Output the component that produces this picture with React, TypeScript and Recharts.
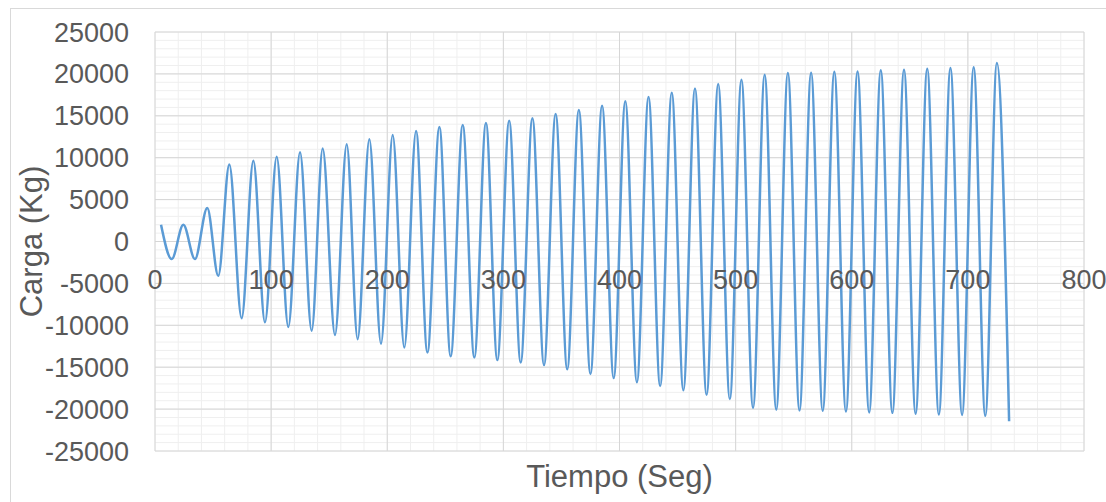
import {
  Label,
  Line,
  LineChart,
  ReferenceDot,
  ReferenceLine,
  XAxis,
  YAxis,
} from 'recharts'

// extremos de la curva (picos y valles)
const tiempoSeg = [
  5.2, 14.4, 24.4, 34.4, 45, 54.5, 64, 74.6, 84.7, 94.7, 104.8, 114.8, 124.9, 134.9, 144.4, 155,
  165.1, 174.5, 184.6, 194.6, 204.7, 214.7, 224.8, 234.6, 244.9, 254.6, 265, 275, 285, 294.8,
  305, 314.9, 325, 335, 345, 355, 365, 375, 385, 395, 405, 415, 425, 435, 445, 455, 465, 475,
  485, 495, 505, 515, 525, 535, 545, 555, 565, 575, 585, 595, 605, 615, 625, 635, 645, 655,
  665, 675, 685, 695, 705, 715, 725, 735.5,
]

const cargaKg = [
  2000, -2100, 2000, -2100, 4000, -4100, 9200, -9150, 9650, -9650, 10100, -10200, 10650, -10650,
  11100, -11150, 11600, -11650, 12200, -12200, 12700, -12650, 13200, -13250, 13650, -13700,
  13900, -13850, 14150, -14150, 14400, -14450, 14700, -14750, 15200, -15250, 15700, -15800,
  16200, -16300, 16750, -16800, 17250, -17250, 17750, -17750, 18250, -18300, 18800, -18800,
  19300, -19850, 19900, -20050, 20100, -20150, 20150, -20200, 20250, -20300, 20300, -20400,
  20450, -20450, 20500, -20550, 20600, -20650, 20700, -20700, 20800, -20800, 21300, -21450,
]

const xTicks = [0, 100, 200, 300, 400, 500, 600, 700, 800]
const yTicks = [-25000, -20000, -15000, -10000, -5000, 0, 5000, 10000, 15000, 20000, 25000]

const xMinor = Array.from({ length: 41 }, (_, i) => i * 20)
const yMinor = Array.from({ length: 51 }, (_, i) => -25000 + i * 1000)

const data = tiempoSeg.map((t, i) => ({ t, carga: cargaKg[i] }))

const FONT = '"Liberation Sans", Arial, sans-serif'
const TEXT = '#595959'

export default function App() {
  return (
    <div style={{ position: 'absolute', left: 0, top: 0, width: 1106, height: 502, background: '#fff' }}>
      <div
        style={{
          position: 'absolute',
          left: 10,
          top: 8,
          width: 1100,
          height: 500,
          border: '1px solid #d9d9d9',
          boxSizing: 'border-box',
        }}
      />
      <LineChart
        width={1106}
        height={502}
        data={data}
        margin={{ top: 32, right: 22, bottom: 0, left: 0 }}
        style={{ position: 'absolute', left: 0, top: 0, fontFamily: FONT }}
      >
        <XAxis
          dataKey="t"
          type="number"
          domain={[0, 800]}
          ticks={xTicks}
          height={51}
          axisLine={false}
          tickLine={false}
          tick={false}
        >
          <Label
            value="Tiempo (Seg)"
            position="insideBottom"
            offset={15}
            style={{ fontSize: 31, fill: TEXT, fontFamily: FONT }}
          />
        </XAxis>
        <YAxis
          type="number"
          domain={[-25000, 25000]}
          ticks={yTicks}
          width={155}
          axisLine={false}
          tickLine={false}
          tickSize={0}
          tickMargin={26}
          tick={{ fontSize: 27, fill: TEXT, fontFamily: FONT }}
        >
          <Label
            value="Carga (Kg)"
            angle={-90}
            position="insideLeft"
            offset={31}
            style={{ fontSize: 31, fill: TEXT, fontFamily: FONT, textAnchor: 'middle' }}
          />
        </YAxis>

        {xMinor.map((v) => (
          <ReferenceLine key={`xm${v}`} x={v} stroke="#efefef" strokeWidth={1} />
        ))}
        {yMinor.map((v) => (
          <ReferenceLine key={`ym${v}`} y={v} stroke="#efefef" strokeWidth={1} />
        ))}
        {xTicks.map((v) => (
          <ReferenceLine key={`xM${v}`} x={v} stroke="#d6d6d6" strokeWidth={1} />
        ))}
        {yTicks.map((v) => (
          <ReferenceLine key={`yM${v}`} y={v} stroke="#d6d6d6" strokeWidth={1} />
        ))}

        {xTicks.map((v) => (
          <ReferenceDot
            key={`xl${v}`}
            x={v}
            y={0}
            r={0}
            fill="none"
            stroke="none"
            label={{
              value: String(v),
              position: 'bottom',
              offset: 28,
              style: { fontSize: 27, fill: TEXT, fontFamily: FONT },
            }}
          />
        ))}

        <Line
          type="monotone"
          dataKey="carga"
          stroke="#5b9bd5"
          strokeWidth={2.5}
          dot={false}
          isAnimationActive={false}
        />
      </LineChart>
    </div>
  )
}
